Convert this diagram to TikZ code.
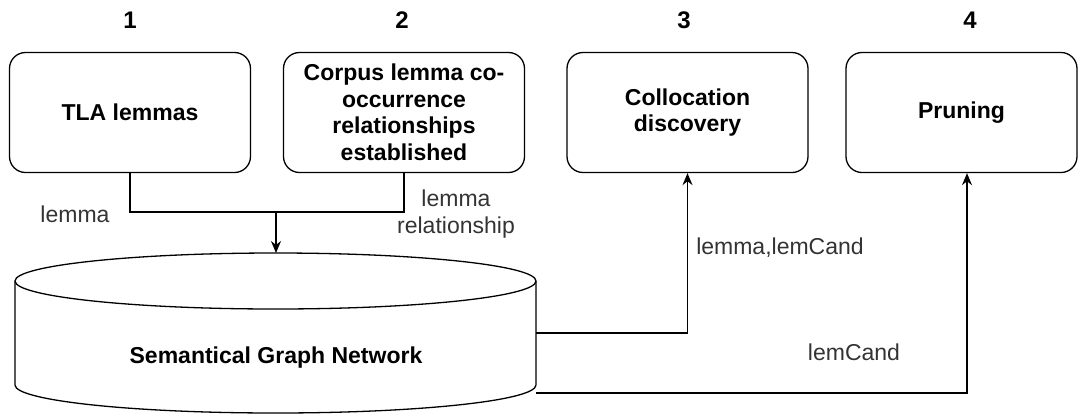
\documentclass[tikz,border=0pt]{standalone}
\usepackage{fontspec}
\setmainfont{Liberation Sans}
\usetikzlibrary{arrows.meta,positioning}

\tikzset{
  stage/.style={draw,line width=1.3pt,rounded corners=16pt,align=center,inner sep=0pt,
    minimum width=241pt,minimum height=120pt,font=\bfseries\fontsize{23}{26.5}\selectfont},
  flow/.style={line width=1.3pt},
  into/.style={flow,-{Stealth[length=12pt,width=10pt]}},
  lbl/.style={align=center,inner sep=0pt,font=\fontsize{23}{27}\selectfont,text=black!80},
}

\begin{document}
\begin{tikzpicture}[x=1pt,y=-1pt]
			\useasboundingbox (0,0) rectangle (1079,416);
			% step numbers
			\foreach \n/\x in {1/130,2/402,3/684,4/970}
				\node[font=\bfseries\fontsize{24}{26}\selectfont] (num\n) at (\x,20) {\n};
			% process stages
			\node[stage] (tla) at (130,112.5) {TLA lemmas};
			\node[stage] (corpus) at (404,112.5) {Corpus lemma co-\\occurrence\\relationships\\established};
			\node[stage] (colloc) at (687.5,112.5) {Collocation\\discovery};
			\node[stage,minimum width=231pt] (prune) at (961.5,112.5) {Pruning};
			% graph store
			\draw[flow] (275.5,281) ellipse (260.5 and 28);
			\draw[flow] (15,281) -- (15,385) arc (180:0:260.5 and 28) -- (536,281);
			\node[font=\bfseries\fontsize{23}{26}\selectfont] (sgn) at (276,358) {Semantical Graph Network};
			\coordinate (join) at (276,212);
			\coordinate (dbtop) at (276,253);
			\coordinate (dbout1) at (536,333);
			\coordinate (dbout2) at (536,393);
			% connectors
			\draw[flow] (tla.south) |- (join) -| (corpus.south);
			\draw[into] (join) -- (dbtop);
			\draw[into] (dbout1) -| (colloc.south);
			\draw[into] (dbout2) -| (prune.south -| 967,0);
			% edge labels
			\node[lbl] (l1) at (75,214) {lemma};
			\node[lbl] (l2) at (456,214) {lemma\\relationship};
			\node[lbl] (l3) at (780,248) {lemma,lemCand};
			\node[lbl] (l4) at (854,352) {lemCand};
		\end{tikzpicture}
\end{document}
